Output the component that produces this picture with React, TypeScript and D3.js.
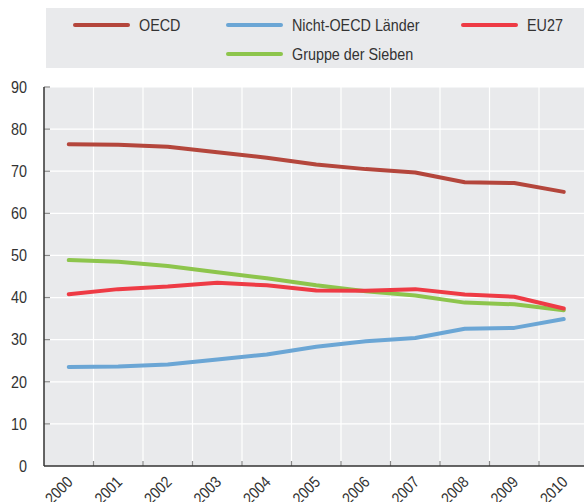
import React, { useEffect, useRef } from 'react'
import * as d3 from 'd3'

const years = ['2000', '2001', '2002', '2003', '2004', '2005', '2006', '2007', '2008', '2009', '2010']
const oecd = [76.4, 76.3, 75.8, 74.5, 73.2, 71.6, 70.5, 69.7, 67.4, 67.2, 65.1]
const nonOecd = [23.5, 23.6, 24.1, 25.3, 26.5, 28.3, 29.6, 30.4, 32.6, 32.8, 34.9]
const eu27 = [40.8, 42.0, 42.6, 43.5, 42.9, 41.7, 41.6, 42.0, 40.7, 40.2, 37.4]
const g7 = [48.9, 48.5, 47.5, 46.0, 44.6, 42.9, 41.5, 40.5, 38.8, 38.4, 37.0]
const yTicks = [0, 10, 20, 30, 40, 50, 60, 70, 80, 90]

const seriesList = [
    { name: 'OECD', values: oecd, color: '#b4463c' },
    { name: 'Nicht-OECD Länder', values: nonOecd, color: '#6ba6d5' },
    { name: 'EU27', values: eu27, color: '#ee3b45' },
    { name: 'Gruppe der Sieben', values: g7, color: '#8dc54c' },
]

const W = 584
const H = 502
const font = '"Liberation Sans", Arial, sans-serif'
const squeeze = 0.87 // condensed look of the original font

const App = () => {
    const ref = useRef<SVGSVGElement>(null)

    useEffect(() => {
        const svg = d3.select(ref.current)
        svg.selectAll('*').remove()

        const left = 44
        const top = 87
        const bottom = 466

        // Scales
        const x = d3.scaleBand().domain(years).range([left, left + 11 * 49.5])
        const y = d3.scaleLinear().domain([0, 90]).range([bottom, top])

        // Legend box
        svg.append('rect').attr('x', 46).attr('y', 8).attr('width', W - 46).attr('height', 60).attr('fill', '#e9eaec')
        const legendPos = [
            { x: 75, y: 25 },
            { x: 228, y: 25 },
            { x: 463, y: 25 },
            { x: 228, y: 54 },
        ]
        seriesList.forEach((s, i) => {
            const p = legendPos[i]
            svg.append('line')
                .attr('x1', p.x).attr('x2', p.x + 53)
                .attr('y1', p.y).attr('y2', p.y)
                .attr('stroke', s.color).attr('stroke-width', 4).attr('stroke-linecap', 'round')
            svg.append('text')
                .attr('transform', `translate(${p.x + 64},${p.y}) scale(${squeeze},1)`)
                .attr('dy', '0.35em')
                .attr('font-family', font).attr('font-size', 16.5)
                .attr('fill', '#333')
                .text(s.name)
        })

        // Plot background
        svg.append('rect').attr('x', left).attr('y', top).attr('width', W - left).attr('height', bottom - top).attr('fill', '#e9eaec')

        // Grid
        const g = svg.append('g')
        g.selectAll('.hgrid')
            .data(yTicks.slice(1))
            .join('line')
            .attr('x1', left).attr('x2', W)
            .attr('y1', d => y(d)).attr('y2', d => y(d))
            .attr('stroke', '#fff').attr('stroke-width', 1.2)
        g.selectAll('.vgrid')
            .data(years.slice(1))
            .join('line')
            .attr('x1', d => x(d)!).attr('x2', d => x(d)!)
            .attr('y1', top).attr('y2', bottom)
            .attr('stroke', '#fff').attr('stroke-width', 1.2)

        // Ticks
        g.selectAll('.ytick')
            .data(yTicks.slice(1))
            .join('line')
            .attr('x1', left).attr('x2', left + 6)
            .attr('y1', d => y(d)).attr('y2', d => y(d))
            .attr('stroke', '#888').attr('stroke-width', 1.2)
        g.selectAll('.xtick')
            .data(years.slice(1))
            .join('line')
            .attr('x1', d => x(d)!).attr('x2', d => x(d)!)
            .attr('y1', bottom - 5).attr('y2', bottom)
            .attr('stroke', '#888').attr('stroke-width', 1.2)

        // Axes lines
        svg.append('line').attr('x1', left).attr('x2', left).attr('y1', top).attr('y2', bottom).attr('stroke', '#333').attr('stroke-width', 1.5)
        svg.append('line').attr('x1', left).attr('x2', W).attr('y1', bottom).attr('y2', bottom).attr('stroke', '#333').attr('stroke-width', 1.5)

        // Tick labels
        svg.selectAll('.ylabel')
            .data(yTicks)
            .join('text')
            .attr('transform', d => `translate(27,${y(d)}) scale(${squeeze},1)`)
            .attr('dy', '0.35em')
            .attr('text-anchor', 'end')
            .attr('font-family', font).attr('font-size', 16.5)
            .attr('fill', '#333')
            .text(d => d)
        svg.selectAll('.xlabel')
            .data(years)
            .join('text')
            .attr('transform', d => `translate(${x(d)! + x.bandwidth() / 2 + 5},${bottom + 17}) rotate(-45) scale(${squeeze},1)`)
            .attr('text-anchor', 'end')
            .attr('font-family', font).attr('font-size', 16)
            .attr('fill', '#333')
            .text(d => d)

        // Lines
        const line = d3.line<number>()
            .x((_, i) => x(years[i])! + x.bandwidth() / 2)
            .y(d => y(d))
        const drawOrder = [1, 3, 2, 0]
        drawOrder.forEach(i => {
            const s = seriesList[i]
            svg.append('path')
                .attr('d', line(s.values))
                .attr('fill', 'none')
                .attr('stroke', s.color)
                .attr('stroke-width', 4)
                .attr('stroke-linecap', 'round')
                .attr('stroke-linejoin', 'round')
        })
    }, [])

    return <svg ref={ref} width={W} height={H} style={{ position: 'absolute', left: 0, top: 0 }} />
}

export default App
